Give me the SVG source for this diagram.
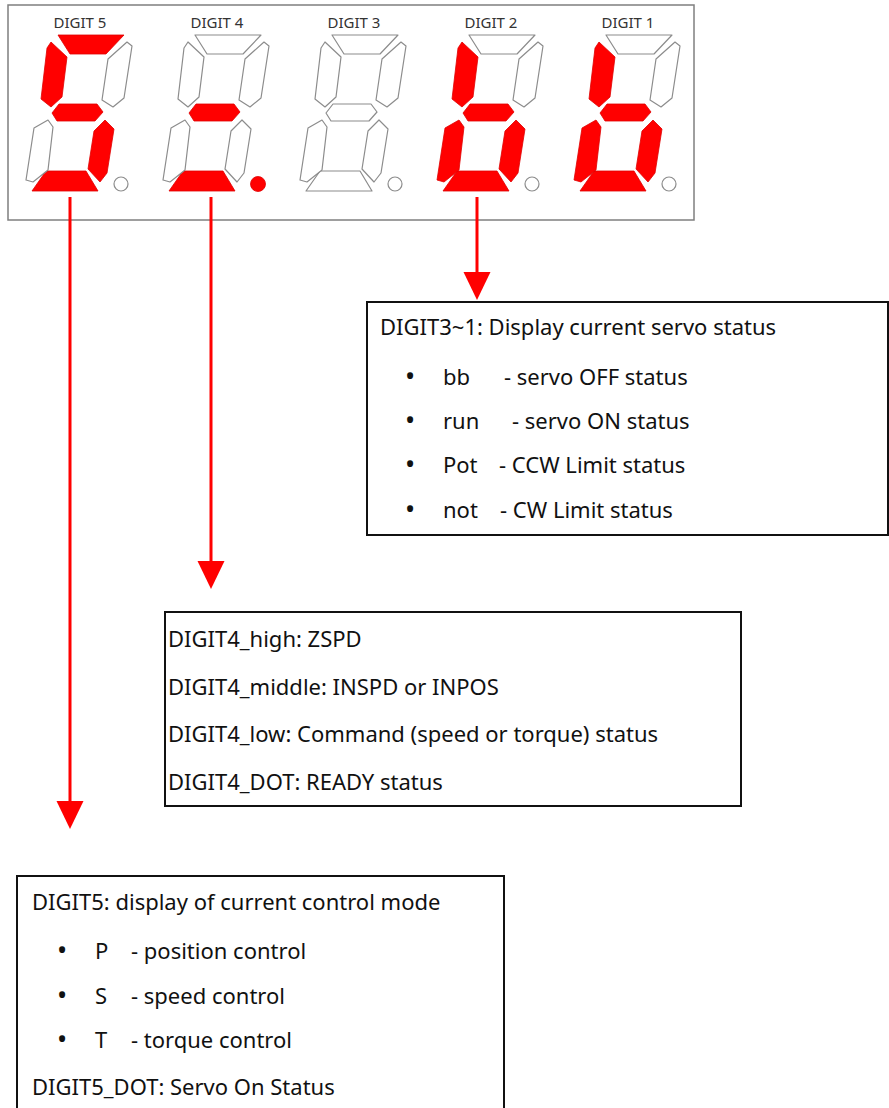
<svg xmlns="http://www.w3.org/2000/svg" xmlns:xlink="http://www.w3.org/1999/xlink" width="889" height="1108" viewBox="0 0 889 1108">
<style>
.on{fill:#ff0000;stroke:#e00000;stroke-width:0.8;stroke-linejoin:round}
.off{fill:#ffffff;stroke:#8c8c8c;stroke-width:1.2;stroke-linejoin:round}
.lbl{font-family:"Noto Sans","Liberation Sans",sans-serif;font-size:15px;fill:#333;text-anchor:middle}
.t{font-family:"Noto Sans","Liberation Sans",sans-serif;font-size:22px;fill:#111}
.b{text-anchor:middle;font-size:27px}
.box{fill:#ffffff;stroke:#111;stroke-width:2}
.conn{stroke:#ff0000;stroke-width:3;fill:none}
</style>
<defs>
<polygon id="sa" points="58,35 124,35 106,54 70,54"/>
<polygon id="sb" points="127,42 132,46 124,98 113,107 102,100 108,59"/>
<polygon id="sc" points="105,120 114,129 107,173 100,182 88,169 94,131"/>
<polygon id="sd" points="46,171 86,171 98,191 32,191"/>
<polygon id="se" points="48,120 53,127 48,170 33,182 26,180 34,128"/>
<polygon id="sf" points="51,42 67,57 62,97 51,107 41,99 47,48"/>
<polygon id="sg" points="52,113 59,104 97,104 103,112 95,121 57,121"/>
<marker id="ah" markerUnits="userSpaceOnUse" markerWidth="28" markerHeight="28" refX="0" refY="13.5" orient="auto" viewBox="0 0 28 27">
<path d="M0,0 L28,13.5 L0,27 Z" fill="#ff0000"/>
</marker>
</defs>
<rect width="889" height="1108" fill="#ffffff"/>
<g id="display">
<rect x="8" y="5" width="686" height="215" fill="#ffffff" stroke="#7f7f7f" stroke-width="1.5"/>
<g id="digit5">
<text class="lbl" x="80" y="28">DIGIT 5</text>
<use xlink:href="#sa" href="#sa" class="on"/>
<use xlink:href="#sb" href="#sb" class="off"/>
<use xlink:href="#sc" href="#sc" class="on"/>
<use xlink:href="#sd" href="#sd" class="on"/>
<use xlink:href="#se" href="#se" class="off"/>
<use xlink:href="#sf" href="#sf" class="on"/>
<use xlink:href="#sg" href="#sg" class="on"/>
<circle cx="121" cy="184" r="7" class="off"/>
</g>
<g id="digit4" transform="translate(137,0)">
<text class="lbl" x="80" y="28">DIGIT 4</text>
<use xlink:href="#sa" href="#sa" class="off"/>
<use xlink:href="#sb" href="#sb" class="off"/>
<use xlink:href="#sc" href="#sc" class="off"/>
<use xlink:href="#sd" href="#sd" class="on"/>
<use xlink:href="#se" href="#se" class="off"/>
<use xlink:href="#sf" href="#sf" class="off"/>
<use xlink:href="#sg" href="#sg" class="on"/>
<circle cx="121" cy="184" r="7.5" class="on"/>
</g>
<g id="digit3" transform="translate(274,0)">
<text class="lbl" x="80" y="28">DIGIT 3</text>
<use xlink:href="#sa" href="#sa" class="off"/>
<use xlink:href="#sb" href="#sb" class="off"/>
<use xlink:href="#sc" href="#sc" class="off"/>
<use xlink:href="#sd" href="#sd" class="off"/>
<use xlink:href="#se" href="#se" class="off"/>
<use xlink:href="#sf" href="#sf" class="off"/>
<use xlink:href="#sg" href="#sg" class="off"/>
<circle cx="121" cy="184" r="7" class="off"/>
</g>
<g id="digit2" transform="translate(411,0)">
<text class="lbl" x="80" y="28">DIGIT 2</text>
<use xlink:href="#sa" href="#sa" class="off"/>
<use xlink:href="#sb" href="#sb" class="off"/>
<use xlink:href="#sc" href="#sc" class="on"/>
<use xlink:href="#sd" href="#sd" class="on"/>
<use xlink:href="#se" href="#se" class="on"/>
<use xlink:href="#sf" href="#sf" class="on"/>
<use xlink:href="#sg" href="#sg" class="on"/>
<circle cx="121" cy="184" r="7" class="off"/>
</g>
<g id="digit1" transform="translate(548,0)">
<text class="lbl" x="80" y="28">DIGIT 1</text>
<use xlink:href="#sa" href="#sa" class="off"/>
<use xlink:href="#sb" href="#sb" class="off"/>
<use xlink:href="#sc" href="#sc" class="on"/>
<use xlink:href="#sd" href="#sd" class="on"/>
<use xlink:href="#se" href="#se" class="on"/>
<use xlink:href="#sf" href="#sf" class="on"/>
<use xlink:href="#sg" href="#sg" class="on"/>
<circle cx="121" cy="184" r="7" class="off"/>
</g>
</g>
<g id="connectors">
<line class="conn" x1="477" y1="197" x2="477" y2="272" marker-end="url(#ah)"/>
<line class="conn" x1="211" y1="197" x2="211" y2="561" marker-end="url(#ah)"/>
<line class="conn" x1="70" y1="197" x2="70" y2="801" marker-end="url(#ah)"/>
</g>
<g id="box-digit3-1">
<rect class="box" x="367" y="302" width="521" height="233"/>
<text class="t" x="380" y="335">DIGIT3~1: Display current servo status</text>
<text class="t b" x="410" y="386">•</text><text class="t" x="443" y="385">bb</text><text class="t" x="504" y="385">- servo OFF status</text>
<text class="t b" x="410" y="430">•</text><text class="t" x="443" y="429">run</text><text class="t" x="512" y="429">- servo ON status</text>
<text class="t b" x="410" y="474">•</text><text class="t" x="443" y="473">Pot</text><text class="t" x="499" y="473">- CCW Limit status</text>
<text class="t b" x="410" y="519">•</text><text class="t" x="443" y="518">not</text><text class="t" x="500" y="518">- CW Limit status</text>
</g>
<g id="box-digit4">
<rect class="box" x="165" y="612" width="576" height="194"/>
<text class="t" x="168" y="647">DIGIT4_high: ZSPD</text>
<text class="t" x="168" y="695">DIGIT4_middle: INSPD or INPOS</text>
<text class="t" x="168" y="742">DIGIT4_low: Command (speed or torque) status</text>
<text class="t" x="168" y="790">DIGIT4_DOT: READY status</text>
</g>
<g id="box-digit5">
<rect class="box" x="17" y="876" width="487" height="240"/>
<text class="t" x="32" y="910">DIGIT5: display of current control mode</text>
<text class="t b" x="62" y="960">•</text><text class="t" x="95" y="959">P</text><text class="t" x="131" y="959">- position control</text>
<text class="t b" x="62" y="1005">•</text><text class="t" x="95" y="1004">S</text><text class="t" x="131" y="1004">- speed control</text>
<text class="t b" x="62" y="1049">•</text><text class="t" x="95" y="1048">T</text><text class="t" x="131" y="1048">- torque control</text>
<text class="t" x="32" y="1095">DIGIT5_DOT: Servo On Status</text>
</g>
</svg>
